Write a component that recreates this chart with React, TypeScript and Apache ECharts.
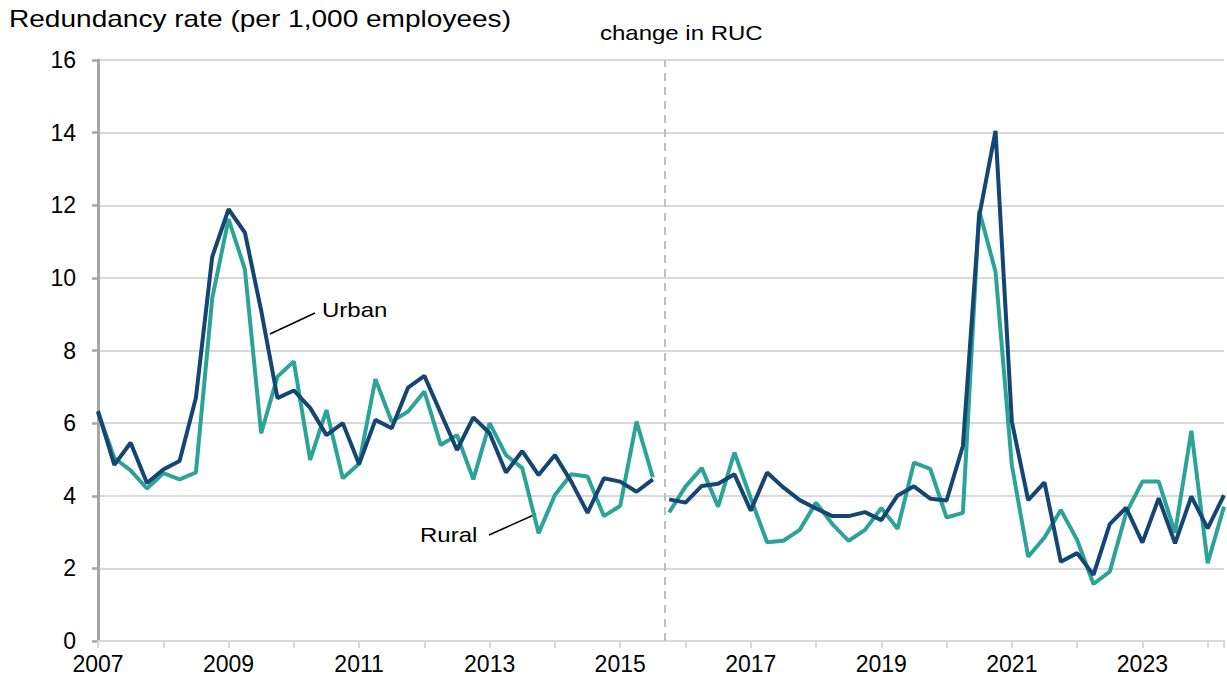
import React, { useEffect, useRef } from "react";
import * as echarts from "echarts";

// Quarterly redundancy rates, 2007 Q1 .. 2024 Q2 (per 1,000 employees)
const START_YEAR = 2007;
const BREAK_AFTER_INDEX = 34; // series break after 2015 Q3 (change in RUC)
const RUC_CHANGE_X = 2015.69;

const urban: number[] = [
  6.33, 4.85, 5.46, 4.35, 4.72, 4.96, 6.7, 10.58, 11.89, 11.25,
  9.1, 6.69, 6.9, 6.42, 5.67, 6.0, 4.87, 6.09, 5.86, 6.98,
  7.3, 6.28, 5.26, 6.16, 5.72, 4.64, 5.23, 4.57, 5.12, 4.39,
  3.53, 4.48, 4.39, 4.11, 4.45,
  3.9, 3.81, 4.27, 4.33, 4.59, 3.59, 4.64, 4.23, 3.88, 3.65,
  3.44, 3.44, 3.55, 3.33, 4.01, 4.26, 3.92, 3.87, 5.37, 11.7,
  14.05, 6.04, 3.88, 4.37, 2.18, 2.42, 1.82, 3.22, 3.67, 2.71,
  3.93, 2.69, 3.98, 3.1, 4.02,
];

const rural: number[] = [
  6.3, 5.04, 4.7, 4.2, 4.62, 4.45, 4.64, 9.44, 11.62, 10.24,
  5.72, 7.28, 7.7, 4.99, 6.36, 4.48, 4.88, 7.21, 6.04, 6.32,
  6.87, 5.4, 5.67, 4.45, 6.0, 5.12, 4.76, 2.97, 4.02, 4.59,
  4.53, 3.44, 3.72, 6.04, 4.51,
  3.54, 4.25, 4.76, 3.7, 5.19, 3.93, 2.72, 2.76, 3.06, 3.81,
  3.22, 2.76, 3.06, 3.66, 3.09, 4.91, 4.74, 3.4, 3.53, 11.85,
  10.17, 4.84, 2.32, 2.85, 3.61, 2.78, 1.57, 1.91, 3.52, 4.39,
  4.39, 2.98, 5.79, 2.14, 3.7,
];

const yTicks = { min: 0, max: 16, interval: 2 };
const xRange = { min: 2007, max: 2024.25, interval: 1 };

const TITLE = "Redundancy rate (per 1,000 employees)";
const RUC_LABEL = "change in RUC";
const URBAN_LABEL = "Urban";
const RURAL_LABEL = "Rural";

const URBAN_COLOR = "#154673";
const RURAL_COLOR = "#2ba497";

function buildSeriesData(values: number[]): (number | string)[][] {
  const out: (number | string)[][] = [];
  values.forEach((v, i) => {
    const x = START_YEAR + i * 0.25;
    out.push([x, v]);
    if (i === BREAK_AFTER_INDEX) {
      out.push([x + 0.125, "-"]);
    }
  });
  return out;
}

const FONT = '"Liberation Sans", Arial, sans-serif';

export default function App() {
  const ref = useRef<HTMLDivElement>(null);

  useEffect(() => {
    if (!ref.current) return;
    const chart = echarts.init(ref.current, undefined, { renderer: "svg" });
    chart.setOption({
      animation: false,
      backgroundColor: "#ffffff",
      grid: { left: 98, right: 0, top: 60, bottom: 46, containLabel: false },
      xAxis: {
        type: "value",
        min: xRange.min,
        max: xRange.max,
        interval: xRange.interval,
        axisLine: { show: true, onZero: false, lineStyle: { color: "#d9d9d9", width: 2 } },
        axisTick: { show: true, length: 7, lineStyle: { color: "#d9d9d9", width: 2 } },
        splitLine: { show: false },
        axisLabel: {
          margin: 11,
          fontSize: 23,
          fontFamily: FONT,
          color: "#000",
          formatter: (v: number) =>
            Number.isInteger(v) && v % 2 === 1 ? String(v) : "",
        },
      },
      yAxis: {
        type: "value",
        min: yTicks.min,
        max: yTicks.max,
        interval: yTicks.interval,
        axisLine: { show: true, lineStyle: { color: "#a6a6a6", width: 3 } },
        axisTick: { show: true, length: 6, lineStyle: { color: "#a6a6a6", width: 2.5 } },
        splitLine: { show: true, lineStyle: { color: "#d9d9d9", width: 2 } },
        axisLabel: {
          margin: 22,
          fontSize: 23,
          fontFamily: FONT,
          color: "#000",
        },
      },
      series: [
        {
          name: "Rural",
          type: "line",
          data: buildSeriesData(rural),
          showSymbol: false,
          symbol: "none",
          connectNulls: false,
          lineStyle: { color: RURAL_COLOR, width: 4 },
          itemStyle: { color: RURAL_COLOR },
          markLine: {
            silent: true,
            symbol: "none",
            label: { show: false },
            lineStyle: { color: "#bfbfbf", width: 2, type: [8, 6] },
            data: [{ xAxis: RUC_CHANGE_X }],
          },
          z: 2,
        },
        {
          name: "Urban",
          type: "line",
          data: buildSeriesData(urban),
          showSymbol: false,
          symbol: "none",
          connectNulls: false,
          lineStyle: { color: URBAN_COLOR, width: 4 },
          itemStyle: { color: URBAN_COLOR },
          z: 3,
        },
      ],
      graphic: [
        {
          type: "text",
          x: 9,
          y: 19,
          scaleX: 1.22,
          style: {
            text: TITLE,
            font: `23px ${FONT}`,
            fill: "#000",
            align: "left",
            verticalAlign: "middle",
          },
        },
        {
          type: "text",
          x: 600,
          y: 33,
          scaleX: 1.2,
          style: {
            text: RUC_LABEL,
            font: `20px ${FONT}`,
            fill: "#000",
            align: "left",
            verticalAlign: "middle",
          },
        },
        {
          type: "text",
          x: 322,
          y: 310,
          scaleX: 1.2,
          style: {
            text: URBAN_LABEL,
            font: `20px ${FONT}`,
            fill: "#000",
            align: "left",
            verticalAlign: "middle",
          },
        },
        {
          type: "text",
          x: 420,
          y: 535,
          scaleX: 1.2,
          style: {
            text: RURAL_LABEL,
            font: `20px ${FONT}`,
            fill: "#000",
            align: "left",
            verticalAlign: "middle",
          },
        },
        {
          type: "line",
          shape: { x1: 270, y1: 334, x2: 315, y2: 313 },
          style: { stroke: "#000", lineWidth: 1.5 },
        },
        {
          type: "line",
          shape: { x1: 489, y1: 535, x2: 536, y2: 514 },
          style: { stroke: "#000", lineWidth: 1.5 },
        },
      ],
    });
    return () => chart.dispose();
  }, []);

  return (
    <div
      ref={ref}
      style={{ position: "fixed", left: 0, top: 0, width: 1227, height: 687 }}
    />
  );
}
